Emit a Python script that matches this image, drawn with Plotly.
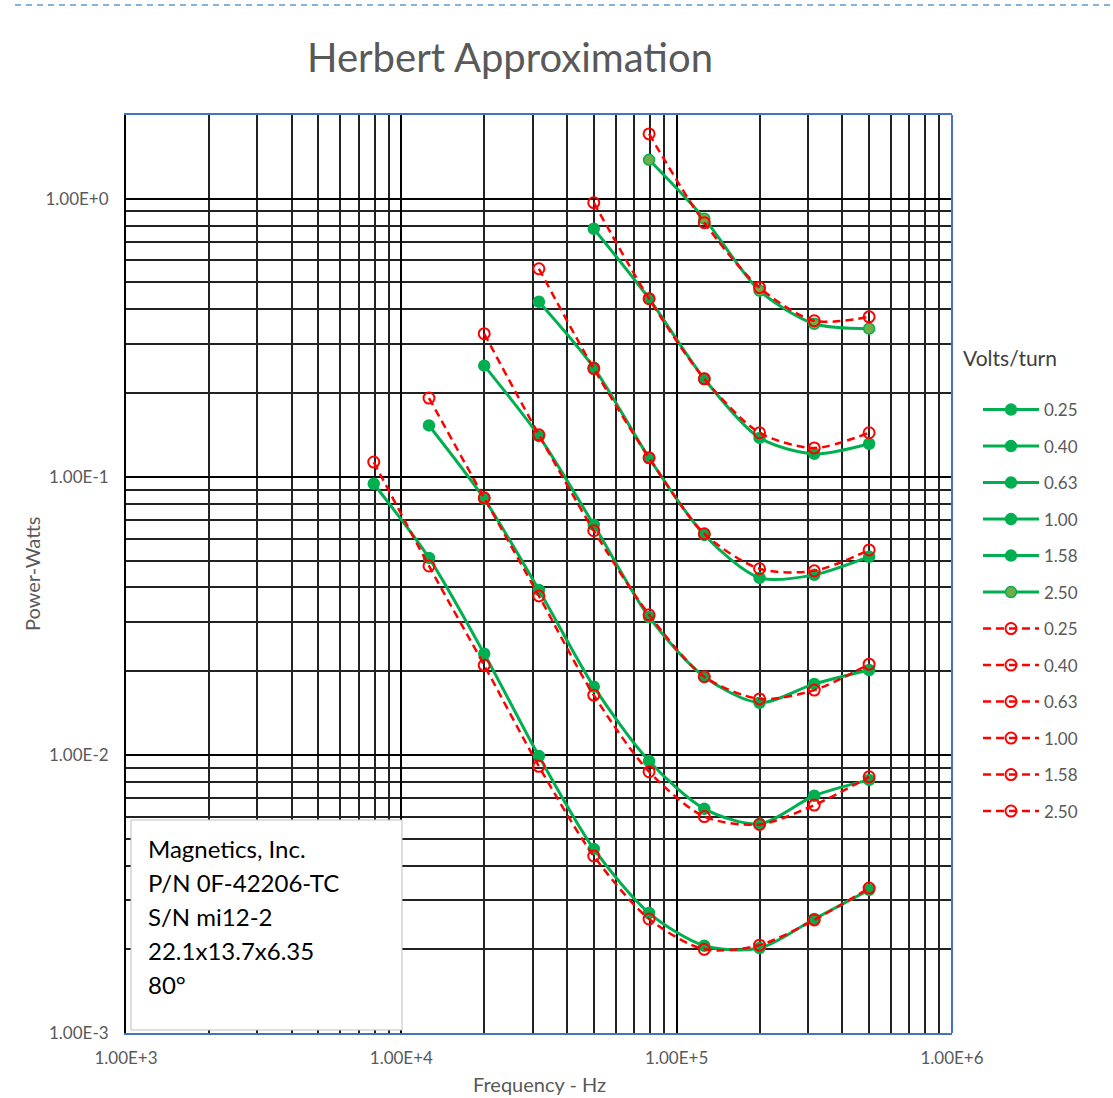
import plotly.graph_objects as go

freq = [7940, 12600, 20000, 31600, 50000, 79400, 126000, 200000, 316000, 500000]
volts = ["0.25", "0.40", "0.63", "1.00", "1.58", "2.50"]

# measured (green) power, W
meas_025 = [0.0944, 0.0511, 0.0231, 0.0099, 0.00459, 0.0027, 0.00206, 0.00202, 0.00257, 0.00327]
meas_040 = [0.153, 0.0833, 0.0392, 0.0176, 0.0095, 0.0064, 0.00565, 0.00713, 0.00813]
meas_063 = [0.251, 0.140, 0.0672, 0.0313, 0.0191, 0.0154, 0.0180, 0.0202]
meas_100 = [0.426, 0.247, 0.117, 0.0618, 0.0433, 0.0444, 0.0516]
meas_158 = [0.780, 0.437, 0.225, 0.138, 0.121, 0.1315]
meas_250 = [1.38, 0.848, 0.467, 0.355, 0.341]

# Herbert approximation (red dashed) power, W
herb_025 = [0.113, 0.0478, 0.0210, 0.0091, 0.00433, 0.00257, 0.00200, 0.00207, 0.00255, 0.00332]
herb_040 = [0.192, 0.0840, 0.0373, 0.0164, 0.0087, 0.0060, 0.00562, 0.0066, 0.00834]
herb_063 = [0.327, 0.1416, 0.0640, 0.0319, 0.0191, 0.0159, 0.0171, 0.0212]
herb_100 = [0.560, 0.245, 0.117, 0.0624, 0.0467, 0.0459, 0.0546]
herb_158 = [0.968, 0.437, 0.225, 0.144, 0.127, 0.144]
herb_250 = [1.71, 0.820, 0.479, 0.364, 0.376]

meas = [meas_025, meas_040, meas_063, meas_100, meas_158, meas_250]
herb = [herb_025, herb_040, herb_063, herb_100, herb_158, herb_250]

y_ticks = [0.001, 0.01, 0.1, 1]
y_ticktext = ["1.00E-3", "1.00E-2", "1.00E-1", "1.00E+0"]
x_ticks = [1e3, 1e4, 1e5, 1e6]
x_ticktext = ["1.00E+3", "1.00E+4", "1.00E+5", "1.00E+6"]
minor_vals_x = [m * 10 ** d for d in (3, 4, 5) for m in range(2, 10)]
minor_vals_y = [m * 10.0 ** d for d in (-3, -2, -1, 0) for m in range(2, 10) if m * 10.0 ** d <= 2]

info_lines = ["Magnetics, Inc.", "P/N 0F-42206-TC", "S/N mi12-2", "22.1x13.7x6.35", "80°"]

GREEN = "#00B050"
RED = "#FF0000"
GRAY = "#595959"
FONT = "Lato, 'Open Sans', sans-serif"

fig = go.Figure()
for i, (v, ys) in enumerate(zip(volts, meas)):
    xs = freq[len(freq) - len(ys):]
    fill = "#70AD47" if v == "2.50" else GREEN
    fig.add_trace(go.Scatter(
        x=xs, y=ys, name=v, legendgroup="m" + v,
        mode="lines+markers",
        line=dict(color=GREEN, width=3, shape="spline", smoothing=0.8),
        marker=dict(symbol="circle", size=11, color=fill, line=dict(color=GREEN, width=1.5)),
    ))
for i, (v, ys) in enumerate(zip(volts, herb)):
    xs = freq[len(freq) - len(ys):]
    fig.add_trace(go.Scatter(
        x=xs, y=ys, name=v, legendgroup="h" + v,
        mode="lines+markers",
        line=dict(color=RED, width=2.5, dash="8px,5px", shape="spline", smoothing=0.8),
        marker=dict(symbol="circle-open", size=11, color=RED, line=dict(color=RED, width=2)),
    ))

L, R, T, B = 126, 161, 115, 65
W, H = 1113, 1098
pw, ph = W - L - R, H - T - B

def px(x):
    return (x - L) / pw

def py(y):
    return (H - B - y) / ph

fig.update_layout(
    width=W, height=H,
    margin=dict(l=L, r=R, t=T, b=B),
    paper_bgcolor="white", plot_bgcolor="white",
    font=dict(family=FONT, color=GRAY, size=17),
    title=dict(text="Herbert Approximation", x=510 / W, xref="container", xanchor="center",
               y=1 - 58 / H, yref="container", yanchor="middle",
               font=dict(size=40, color=GRAY, family=FONT)),
    showlegend=True,
    legend=dict(
        x=px(978), xanchor="left", y=py(392), yanchor="top",
        font=dict(size=17, color=GRAY), tracegroupgap=11.4, itemwidth=56,
        bgcolor="rgba(0,0,0,0)",
    ),
    xaxis=dict(
        type="log", range=[3, 6], tickvals=x_ticks, ticktext=x_ticktext,
        showgrid=True, gridcolor="black", gridwidth=2,
        minor=dict(tickvals=minor_vals_x, showgrid=True, gridcolor="#222222", gridwidth=1.5),
        showline=True, linecolor="#4472C4", linewidth=2, mirror=True,
        ticks="", tickfont=dict(size=17, color=GRAY), zeroline=False,
        ticklabelstandoff=9,
    ),
    yaxis=dict(
        type="log", range=[-3, 0.30103], tickvals=y_ticks, ticktext=y_ticktext,
        showgrid=True, gridcolor="black", gridwidth=2,
        minor=dict(tickvals=minor_vals_y, showgrid=True, gridcolor="#222222", gridwidth=1.5),
        showline=True, linecolor="black", linewidth=2,
        ticks="", tickfont=dict(size=17, color=GRAY), zeroline=False,
        ticklabelstandoff=12,
    ),
)

shapes = [
    # light gray gridline at 1.00E+0
    dict(type="line", xref="paper", x0=0, x1=1, yref="y", y0=0, y1=0,
         line=dict(color="#BFBFBF", width=2), layer="between"),
    # right border
    dict(type="line", xref="paper", x0=1, x1=1, yref="paper", y0=0, y1=1,
         line=dict(color="#4472C4", width=2)),
    # info box
    dict(type="rect", xref="paper", yref="paper",
         x0=px(131), x1=px(402), y0=py(1030), y1=py(820),
         fillcolor="white", line=dict(color="#BFBFBF", width=1), layer="above"),
    # dashed page line at top
    dict(type="line", xref="paper", yref="paper", x0=px(15), x1=px(1113), y0=py(5), y1=py(5),
         line=dict(color="#5B9BD5", width=1.5, dash="6px,5px")),
]
fig.update_layout(shapes=shapes)

fig.add_annotation(
    xref="paper", yref="paper", x=px(961), y=py(358), xanchor="left", yanchor="middle",
    text="Volts/turn", showarrow=False, font=dict(size=21, color="#404040"),
)
for k, line in enumerate(info_lines):
    fig.add_annotation(
        xref="paper", yref="paper", x=px(146), y=py(848 + 34 * k), xanchor="left", yanchor="middle",
        text=line, align="left", showarrow=False,
        font=dict(size=24, color="black", family=FONT),
    )
fig.add_annotation(
    xref="paper", yref="paper", x=px(32), y=py(574), xanchor="center", yanchor="middle",
    text="Power-Watts", textangle=-90, showarrow=False, font=dict(size=20, color=GRAY),
)
fig.add_annotation(
    xref="paper", yref="paper", x=px(539), y=py(1084), xanchor="center", yanchor="middle",
    text="Frequency - Hz", showarrow=False, font=dict(size=20, color=GRAY),
)

fig.write_html("out.html")
